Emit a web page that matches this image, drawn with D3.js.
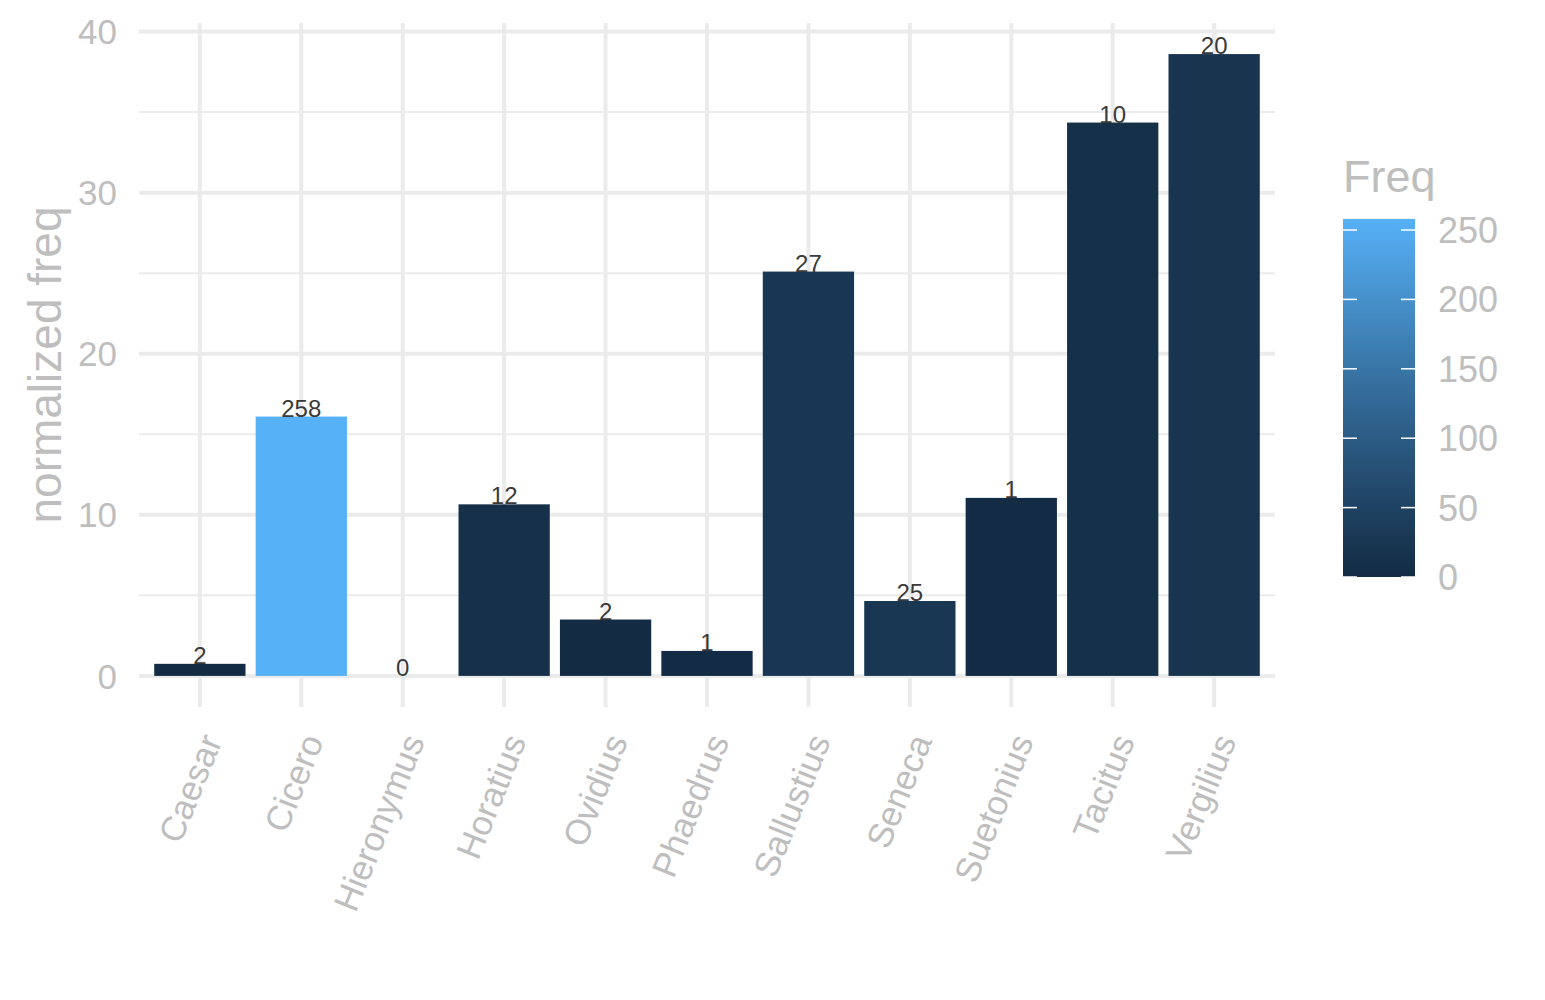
<!DOCTYPE html>
<html>
<head>
<meta charset="utf-8">
<script src="https://cdn.jsdelivr.net/npm/d3@7"></script>
<style>
  body { margin: 0; background: #fff; }
  text { font-family: "Liberation Sans", Arial, sans-serif; }
</style>
</head>
<body>
<div id="chart"></div>
<script>
const authors = ['Caesar', 'Cicero', 'Hieronymus', 'Horatius', 'Ovidius', 'Phaedrus',
    'Sallustius', 'Seneca', 'Suetonius', 'Tacitus', 'Vergilius'];
const normFreq = [0.75, 16.1, 0, 10.65, 3.5, 1.55, 25.1, 4.65, 11.05, 34.35, 38.6];
const freq = [2, 258, 0, 12, 2, 1, 27, 25, 1, 10, 20];
const yTicks = [0, 10, 20, 30, 40];
const yMinor = [5, 15, 25, 35];
const legendTicks = [0, 50, 100, 150, 200, 250];

const width = 1545, height = 1000;
const panel = { left: 139, right: 1275, top: 23, bottom: 707 };
const grey = '#BEBEBE', grid = '#EBEBEB';

const svg = d3.select('#chart').append('svg')
    .attr('width', width)
    .attr('height', height);

const data = authors.map((a, i) => ({ name: a, value: normFreq[i], freq: freq[i] }));

const x = d3.scaleBand()
    .domain(authors)
    .range([panel.left, panel.right])
    .paddingInner(0.1)
    .paddingOuter(0.15);

// ggplot style 5% expansion on the continuous axis
const yMax = d3.max(normFreq);
const y = d3.scaleLinear()
    .domain([-0.05 * yMax, yMax * 1.05])
    .range([panel.bottom, panel.top]);

const color = d3.scaleLinear()
    .domain([0, d3.max(freq)])
    .range(['#132B43', '#56B1F7'])
    .interpolate(d3.interpolateLab);

// grid
const g = svg.append('g');
g.selectAll('.minor').data(yMinor).join('line')
    .attr('x1', panel.left).attr('x2', panel.right)
    .attr('y1', d => y(d)).attr('y2', d => y(d))
    .attr('stroke', grid).attr('stroke-width', 2);
g.selectAll('.major').data(yTicks).join('line')
    .attr('x1', panel.left).attr('x2', panel.right)
    .attr('y1', d => y(d)).attr('y2', d => y(d))
    .attr('stroke', grid).attr('stroke-width', 4);
g.selectAll('.vgrid').data(authors).join('line')
    .attr('x1', d => x(d) + x.bandwidth() / 2).attr('x2', d => x(d) + x.bandwidth() / 2)
    .attr('y1', panel.top).attr('y2', panel.bottom)
    .attr('stroke', grid).attr('stroke-width', 4);

// bars
svg.append('g').selectAll('rect').data(data).join('rect')
    .attr('x', d => x(d.name))
    .attr('width', x.bandwidth())
    .attr('y', d => y(d.value))
    .attr('height', d => y(0) - y(d.value))
    .attr('fill', d => color(d.freq));

// bar labels
svg.append('g').selectAll('text').data(data).join('text')
    .attr('x', d => x(d.name) + x.bandwidth() / 2)
    .attr('y', d => y(d.value))
    .attr('text-anchor', 'middle')
    .attr('font-size', 24)
    .attr('fill', '#3a3a3a')
    .text(d => d.freq);

// y axis labels
svg.append('g').selectAll('text').data(yTicks).join('text')
    .attr('x', 117)
    .attr('y', d => y(d))
    .attr('dy', '0.36em')
    .attr('text-anchor', 'end')
    .attr('font-size', 35)
    .attr('fill', grey)
    .text(d => d);

svg.append('text')
    .attr('transform', `translate(61, ${(panel.top + panel.bottom) / 2}) rotate(-90)`)
    .attr('text-anchor', 'middle')
    .attr('font-size', 46)
    .attr('fill', grey)
    .text('normalized freq');

// x axis labels
svg.append('g').selectAll('text').data(authors).join('text')
    .attr('transform', d => `translate(${x(d) + x.bandwidth() / 2 + 11}, 736) rotate(-68)`)
    .attr('dy', '0.36em')
    .attr('text-anchor', 'end')
    .attr('font-size', 35)
    .attr('fill', grey)
    .text(d => d);

// legend colorbar
const leg = { x: 1343, w: 72 };
const ly = d3.scaleLinear().domain([0, 250]).range([577, 230]);
const grad = svg.append('defs').append('linearGradient')
    .attr('id', 'grad').attr('x1', 0).attr('x2', 0).attr('y1', 1).attr('y2', 0);
d3.range(0, 1.0001, 0.1).forEach(t => {
    grad.append('stop').attr('offset', t).attr('stop-color', color(t * d3.max(freq)));
});
svg.append('rect')
    .attr('x', leg.x).attr('width', leg.w)
    .attr('y', ly(d3.max(freq))).attr('height', ly(0) - ly(d3.max(freq)))
    .attr('fill', 'url(#grad)');
const lt = svg.append('g').selectAll('g').data(legendTicks).join('g');
lt.append('line')
    .attr('x1', leg.x).attr('x2', leg.x + 14)
    .attr('y1', d => ly(d)).attr('y2', d => ly(d))
    .attr('stroke', '#fff').attr('stroke-width', 1.5);
lt.append('line')
    .attr('x1', leg.x + leg.w - 14).attr('x2', leg.x + leg.w)
    .attr('y1', d => ly(d)).attr('y2', d => ly(d))
    .attr('stroke', '#fff').attr('stroke-width', 1.5);
lt.append('text')
    .attr('x', 1438)
    .attr('y', d => ly(d))
    .attr('dy', '0.36em')
    .attr('font-size', 36)
    .attr('fill', grey)
    .text(d => d);

svg.append('text')
    .attr('x', 1343).attr('y', 192)
    .attr('font-size', 45)
    .attr('fill', grey)
    .text('Freq');
</script>
</body>
</html>
